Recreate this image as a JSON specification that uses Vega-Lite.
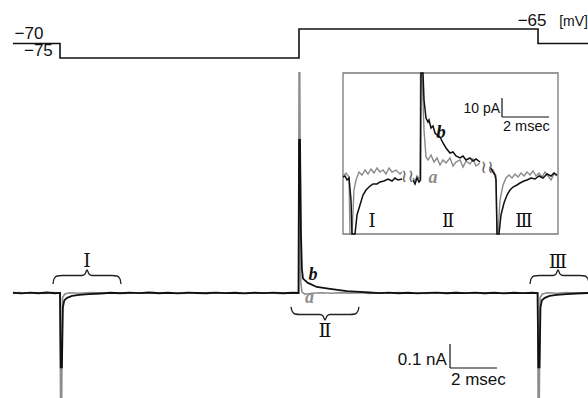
{
"$schema": "https://vega.github.io/schema/vega-lite/v6.json",
"width": 588, "height": 398,
"autosize": {"type": "fit", "contains": "padding"},
"padding": 0,
"background": "white",
"config": {"view": {"stroke": null}},
"datasets": {
"volt": [{"t":0.54,"mV":-70},{"t":2.5,"mV":-70},{"t":2.5,"mV":-75},{"t":12.458,"mV":-75},{"t":12.458,"mV":-65},{"t":22.417,"mV":-65},{"t":22.417,"mV":-70},{"t":24.6,"mV":-70}],
"volt_text": [{"t":1.21,"mV":-68.45,"txt":"−70"},{"t":1.6,"mV":-74.31,"txt":"−75"},{"t":22.17,"mV":-63.97,"txt":"−65"}],
"volt_unit": [{"t":23.3,"mV":-63.97,"txt":"[mV]"}],
"main_a": [{"t":0.54,"nA":-0.0005},{"t":0.8,"nA":0.0015},{"t":1.15,"nA":-0.001},{"t":1.5,"nA":0.001},{"t":1.85,"nA":-0.0015},{"t":2.2,"nA":0.0015},{"t":2.5,"nA":0.0},{"t":2.53,"nA":-0.6},{"t":2.56,"nA":-0.6},{"t":2.6,"nA":-0.02},{"t":2.7,"nA":-0.004},{"t":2.9,"nA":0.001},{"t":3.3,"nA":-0.001},{"t":3.8,"nA":0.0015},{"t":4.3,"nA":-0.0005},{"t":4.8,"nA":0.001},{"t":5.2,"nA":-0.0015},{"t":5.6,"nA":0.001},{"t":6.0,"nA":-0.0005},{"t":6.4,"nA":0.0015},{"t":6.8,"nA":-0.001},{"t":7.2,"nA":0.0005},{"t":7.6,"nA":-0.0015},{"t":8.0,"nA":0.001},{"t":8.4,"nA":-0.0005},{"t":8.8,"nA":0.0015},{"t":9.2,"nA":-0.001},{"t":9.6,"nA":0.0005},{"t":10.0,"nA":-0.0015},{"t":10.4,"nA":0.001},{"t":10.8,"nA":-0.0005},{"t":11.2,"nA":0.001},{"t":11.6,"nA":-0.0015},{"t":12.0,"nA":0.0005},{"t":12.44,"nA":0.0},{"t":12.46,"nA":0.917},{"t":12.49,"nA":0.917},{"t":12.53,"nA":0.05},{"t":12.58,"nA":0.005},{"t":12.7,"nA":-0.005},{"t":13.0,"nA":-0.001},{"t":13.4,"nA":0.001},{"t":13.8,"nA":-0.001},{"t":14.2,"nA":0.0015},{"t":14.6,"nA":-0.0005},{"t":15.0,"nA":0.001},{"t":15.4,"nA":-0.0015},{"t":15.8,"nA":0.001},{"t":16.2,"nA":-0.0005},{"t":16.6,"nA":0.0015},{"t":17.0,"nA":-0.001},{"t":17.4,"nA":0.0005},{"t":17.8,"nA":-0.0015},{"t":18.2,"nA":0.001},{"t":18.6,"nA":-0.0005},{"t":19.0,"nA":0.0015},{"t":19.4,"nA":-0.001},{"t":19.8,"nA":0.0005},{"t":20.2,"nA":-0.0015},{"t":20.6,"nA":0.001},{"t":21.0,"nA":-0.0005},{"t":21.4,"nA":0.001},{"t":21.8,"nA":-0.001},{"t":22.2,"nA":0.0005},{"t":22.4,"nA":0.0},{"t":22.43,"nA":-0.6},{"t":22.46,"nA":-0.6},{"t":22.5,"nA":-0.02},{"t":22.6,"nA":-0.004},{"t":22.8,"nA":0.001},{"t":23.2,"nA":-0.001},{"t":23.6,"nA":0.0015},{"t":24.0,"nA":-0.0005},{"t":24.6,"nA":0.001}],
"main_b": [{"t":0.54,"nA":0.001},{"t":0.9,"nA":-0.0015},{"t":1.25,"nA":0.0015},{"t":1.6,"nA":-0.001},{"t":1.95,"nA":0.002},{"t":2.3,"nA":-0.001},{"t":2.5,"nA":0.0005},{"t":2.53,"nA":-0.31},{"t":2.58,"nA":-0.31},{"t":2.62,"nA":-0.06},{"t":2.68,"nA":-0.03},{"t":2.8,"nA":-0.02},{"t":3.0,"nA":-0.012},{"t":3.3,"nA":-0.008},{"t":3.7,"nA":-0.005},{"t":4.2,"nA":-0.002},{"t":4.6,"nA":0.001},{"t":5.0,"nA":-0.001},{"t":5.4,"nA":0.0015},{"t":5.8,"nA":-0.0005},{"t":6.2,"nA":0.002},{"t":6.6,"nA":-0.001},{"t":7.0,"nA":0.001},{"t":7.4,"nA":-0.0015},{"t":7.8,"nA":0.0015},{"t":8.2,"nA":0.0},{"t":8.6,"nA":-0.001},{"t":9.0,"nA":0.0015},{"t":9.4,"nA":-0.0005},{"t":9.8,"nA":0.001},{"t":10.2,"nA":-0.0015},{"t":10.6,"nA":0.001},{"t":11.0,"nA":-0.0005},{"t":11.4,"nA":0.0015},{"t":11.8,"nA":-0.001},{"t":12.2,"nA":0.001},{"t":12.44,"nA":0.0},{"t":12.46,"nA":0.6375},{"t":12.5,"nA":0.6375},{"t":12.54,"nA":0.25},{"t":12.58,"nA":0.1},{"t":12.625,"nA":0.06},{"t":12.83,"nA":0.042},{"t":13.2,"nA":0.025},{"t":13.75,"nA":0.017},{"t":14.46,"nA":0.008},{"t":15.0,"nA":0.005},{"t":15.4,"nA":0.002},{"t":15.8,"nA":-0.0005},{"t":16.2,"nA":0.0015},{"t":16.6,"nA":-0.001},{"t":17.0,"nA":0.001},{"t":17.4,"nA":-0.0015},{"t":17.8,"nA":0.0005},{"t":18.2,"nA":0.0015},{"t":18.6,"nA":-0.001},{"t":19.0,"nA":0.001},{"t":19.4,"nA":-0.0005},{"t":19.8,"nA":0.0015},{"t":20.2,"nA":-0.001},{"t":20.6,"nA":0.001},{"t":21.0,"nA":-0.0015},{"t":21.4,"nA":0.001},{"t":21.8,"nA":-0.0005},{"t":22.2,"nA":0.001},{"t":22.4,"nA":0.0},{"t":22.43,"nA":-0.31},{"t":22.48,"nA":-0.31},{"t":22.52,"nA":-0.06},{"t":22.58,"nA":-0.03},{"t":22.7,"nA":-0.02},{"t":22.9,"nA":-0.012},{"t":23.2,"nA":-0.008},{"t":23.6,"nA":-0.005},{"t":24.0,"nA":-0.002},{"t":24.6,"nA":0.0005}],
"braces": [
{"id":"I","t":2.208,"nA":0.0375},{"id":"I","t":2.25,"nA":0.0583},{"id":"I","t":2.375,"nA":0.0708},{"id":"I","t":2.583,"nA":0.0729},{"id":"I","t":3.417,"nA":0.0729},{"id":"I","t":3.542,"nA":0.0792},{"id":"I","t":3.625,"nA":0.0958},{"id":"I","t":3.708,"nA":0.0792},{"id":"I","t":3.833,"nA":0.0729},{"id":"I","t":4.667,"nA":0.0729},{"id":"I","t":4.875,"nA":0.0708},{"id":"I","t":5.0,"nA":0.0583},{"id":"I","t":5.042,"nA":0.0375},
{"id":"II","t":12.125,"nA":-0.0583},{"id":"II","t":12.167,"nA":-0.075},{"id":"II","t":12.292,"nA":-0.0875},{"id":"II","t":12.5,"nA":-0.0896},{"id":"II","t":13.333,"nA":-0.0896},{"id":"II","t":13.458,"nA":-0.0958},{"id":"II","t":13.542,"nA":-0.1125},{"id":"II","t":13.625,"nA":-0.0958},{"id":"II","t":13.75,"nA":-0.0896},{"id":"II","t":14.583,"nA":-0.0896},{"id":"II","t":14.792,"nA":-0.0875},{"id":"II","t":14.917,"nA":-0.075},{"id":"II","t":14.958,"nA":-0.0583},
{"id":"III","t":22.083,"nA":0.0375},{"id":"III","t":22.125,"nA":0.0583},{"id":"III","t":22.25,"nA":0.0708},{"id":"III","t":22.458,"nA":0.0729},{"id":"III","t":23.042,"nA":0.0729},{"id":"III","t":23.167,"nA":0.0792},{"id":"III","t":23.25,"nA":0.0958},{"id":"III","t":23.333,"nA":0.0792},{"id":"III","t":23.458,"nA":0.0729},{"id":"III","t":24.167,"nA":0.0729},{"id":"III","t":24.375,"nA":0.0708},{"id":"III","t":24.5,"nA":0.0583},{"id":"III","t":24.542,"nA":0.0375}],
"main_roman": [{"t":3.625,"nA":0.108,"txt":"Ⅰ"},{"t":23.25,"nA":0.104,"txt":"Ⅲ"},{"t":13.542,"nA":-0.183,"txt":"Ⅱ"}],
"main_bar": [{"x1":18.75,"x2":18.75,"y1":-0.2125,"y2":-0.3125},{"x1":18.75,"x2":20.71,"y1":-0.3125,"y2":-0.3125}],
"main_bar_v": [{"t":18.62,"nA":-0.3,"txt":"0.1 nA"}],
"main_bar_h": [{"t":18.79,"nA":-0.383,"txt":"2 msec"}],
"main_b_lab": [{"t":13.04,"nA":0.054,"txt":"b"}],
"main_a_lab": [{"t":12.9,"nA":-0.042,"txt":"a"}],
"ins_box": [{"x1":0,"x2":8.958,"y1":54.74,"y2":-30}],
"ins_a": [
{"seg":1,"t":0,"pA":0.53},{"seg":1,"t":0.125,"pA":2.11},{"seg":1,"t":0.25,"pA":0},{"seg":1,"t":0.292,"pA":-30},{"seg":1,"t":0.375,"pA":-30},{"seg":1,"t":0.458,"pA":-6.84},{"seg":1,"t":0.542,"pA":-1.58},{"seg":1,"t":0.667,"pA":2.63},{"seg":1,"t":0.792,"pA":1.05},{"seg":1,"t":0.917,"pA":3.68},{"seg":1,"t":1.042,"pA":1.58},{"seg":1,"t":1.167,"pA":4.21},{"seg":1,"t":1.292,"pA":2.11},{"seg":1,"t":1.417,"pA":4.74},{"seg":1,"t":1.542,"pA":2.63},{"seg":1,"t":1.667,"pA":3.68},{"seg":1,"t":1.792,"pA":1.58},{"seg":1,"t":1.917,"pA":4.74},{"seg":1,"t":2.042,"pA":2.63},{"seg":1,"t":2.208,"pA":3.68},{"seg":1,"t":2.375,"pA":1.58},{"seg":1,"t":2.458,"pA":2.63},
{"seg":2,"t":2.917,"pA":-0.53},{"seg":2,"t":3.0,"pA":-2.11},{"seg":2,"t":3.083,"pA":0.53},{"seg":2,"t":3.167,"pA":-1.05},{"seg":2,"t":3.208,"pA":-0.53},{"seg":2,"t":3.229,"pA":54.74},{"seg":2,"t":3.292,"pA":54.74},{"seg":2,"t":3.375,"pA":24.74},{"seg":2,"t":3.458,"pA":10.53},{"seg":2,"t":3.542,"pA":8.95},{"seg":2,"t":3.667,"pA":11.58},{"seg":2,"t":3.792,"pA":7.89},{"seg":2,"t":3.917,"pA":10.0},{"seg":2,"t":4.042,"pA":6.32},{"seg":2,"t":4.167,"pA":8.95},{"seg":2,"t":4.292,"pA":7.37},{"seg":2,"t":4.458,"pA":10.0},{"seg":2,"t":4.583,"pA":5.79},{"seg":2,"t":4.708,"pA":7.89},{"seg":2,"t":4.875,"pA":8.95},{"seg":2,"t":5.0,"pA":5.26},{"seg":2,"t":5.125,"pA":8.42},{"seg":2,"t":5.292,"pA":6.84},{"seg":2,"t":5.417,"pA":9.47},{"seg":2,"t":5.542,"pA":5.79},{"seg":2,"t":5.708,"pA":7.37},
{"seg":3,"t":6.125,"pA":4.74},{"seg":3,"t":6.25,"pA":3.68},{"seg":3,"t":6.375,"pA":0.53},{"seg":3,"t":6.417,"pA":-30},{"seg":3,"t":6.458,"pA":-30},{"seg":3,"t":6.542,"pA":-12.1},{"seg":3,"t":6.667,"pA":-4.21},{"seg":3,"t":6.792,"pA":-0.53},{"seg":3,"t":6.917,"pA":1.05},{"seg":3,"t":7.042,"pA":-0.53},{"seg":3,"t":7.167,"pA":1.58},{"seg":3,"t":7.292,"pA":0},{"seg":3,"t":7.417,"pA":2.11},{"seg":3,"t":7.542,"pA":0.53},{"seg":3,"t":7.667,"pA":2.63},{"seg":3,"t":7.792,"pA":1.05},{"seg":3,"t":7.917,"pA":3.16},{"seg":3,"t":8.042,"pA":0.53},{"seg":3,"t":8.167,"pA":2.11},{"seg":3,"t":8.292,"pA":0},{"seg":3,"t":8.417,"pA":2.63},{"seg":3,"t":8.542,"pA":0.53},{"seg":3,"t":8.667,"pA":-1.58},{"seg":3,"t":8.792,"pA":1.58},{"seg":3,"t":8.917,"pA":0.53}],
"ins_b": [
{"seg":1,"t":0,"pA":0},{"seg":1,"t":0.083,"pA":0.53},{"seg":1,"t":0.167,"pA":-1.58},{"seg":1,"t":0.25,"pA":-0.53},{"seg":1,"t":0.333,"pA":-12.1},{"seg":1,"t":0.375,"pA":-30},{"seg":1,"t":0.5,"pA":-30},{"seg":1,"t":0.583,"pA":-20},{"seg":1,"t":0.708,"pA":-14.74},{"seg":1,"t":0.833,"pA":-9.47},{"seg":1,"t":0.958,"pA":-6.84},{"seg":1,"t":1.125,"pA":-4.74},{"seg":1,"t":1.25,"pA":-3.68},{"seg":1,"t":1.417,"pA":-3.68},{"seg":1,"t":1.542,"pA":-2.63},{"seg":1,"t":1.708,"pA":-2.11},{"seg":1,"t":1.875,"pA":-1.05},{"seg":1,"t":2.042,"pA":-2.11},{"seg":1,"t":2.167,"pA":-0.53},{"seg":1,"t":2.292,"pA":-1.58},{"seg":1,"t":2.458,"pA":-1.05},
{"seg":2,"t":2.917,"pA":-1.58},{"seg":2,"t":3.0,"pA":-3.68},{"seg":2,"t":3.083,"pA":-0.53},{"seg":2,"t":3.167,"pA":-2.63},{"seg":2,"t":3.229,"pA":-1.58},{"seg":2,"t":3.25,"pA":54.74},{"seg":2,"t":3.333,"pA":54.74},{"seg":2,"t":3.375,"pA":40.53},{"seg":2,"t":3.458,"pA":31.05},{"seg":2,"t":3.542,"pA":28.95},{"seg":2,"t":3.583,"pA":30.0},{"seg":2,"t":3.667,"pA":25.79},{"seg":2,"t":3.75,"pA":26.84},{"seg":2,"t":3.833,"pA":23.16},{"seg":2,"t":3.917,"pA":22.11},{"seg":2,"t":4.042,"pA":21.05},{"seg":2,"t":4.167,"pA":17.89},{"seg":2,"t":4.292,"pA":15.26},{"seg":2,"t":4.458,"pA":12.63},{"seg":2,"t":4.583,"pA":13.16},{"seg":2,"t":4.708,"pA":11.05},{"seg":2,"t":4.875,"pA":10.0},{"seg":2,"t":5.0,"pA":11.05},{"seg":2,"t":5.125,"pA":8.95},{"seg":2,"t":5.292,"pA":10.0},{"seg":2,"t":5.417,"pA":8.42},{"seg":2,"t":5.542,"pA":9.47},{"seg":2,"t":5.708,"pA":7.89},
{"seg":3,"t":6.125,"pA":5.26},{"seg":3,"t":6.25,"pA":2.63},{"seg":3,"t":6.333,"pA":1.05},{"seg":3,"t":6.375,"pA":-1.58},{"seg":3,"t":6.417,"pA":-30},{"seg":3,"t":6.5,"pA":-30},{"seg":3,"t":6.583,"pA":-20},{"seg":3,"t":6.708,"pA":-13.68},{"seg":3,"t":6.833,"pA":-9.47},{"seg":3,"t":6.958,"pA":-6.84},{"seg":3,"t":7.083,"pA":-5.26},{"seg":3,"t":7.25,"pA":-4.21},{"seg":3,"t":7.375,"pA":-3.16},{"seg":3,"t":7.542,"pA":-2.11},{"seg":3,"t":7.667,"pA":-1.58},{"seg":3,"t":7.833,"pA":-0.53},{"seg":3,"t":8.0,"pA":-1.05},{"seg":3,"t":8.167,"pA":0.53},{"seg":3,"t":8.333,"pA":-0.53},{"seg":3,"t":8.5,"pA":1.58},{"seg":3,"t":8.667,"pA":0.53},{"seg":3,"t":8.792,"pA":2.11},{"seg":3,"t":8.917,"pA":1.05}],
"ins_roman": [{"t":1.208,"pA":-26.3,"txt":"Ⅰ"},{"t":4.375,"pA":-26.3,"txt":"Ⅱ"},{"t":7.542,"pA":-26.3,"txt":"Ⅲ"}],
"ins_breaks": [{"t":2.688,"pA":0,"txt":"≀≀"},{"t":6.0,"pA":4.74,"txt":"≀≀"}],
"ins_bar": [{"x1":6.625,"x2":6.625,"y1":41.58,"y2":31.58},{"x1":6.625,"x2":8.583,"y1":31.58,"y2":31.58}],
"ins_bar_v": [{"t":6.542,"pA":33.68,"txt":"10 pA"}],
"ins_bar_h": [{"t":6.667,"pA":24.21,"txt":"2 msec"}],
"ins_b_lab": [{"t":4.083,"pA":20.53,"txt":"b"}],
"ins_a_lab": [{"t":3.75,"pA":-3.16,"txt":"a"}]
},
"resolve": {"scale": {"x": "independent", "y": "independent"}},
"layer": [
{
"layer": [
{"data": {"name": "volt"}, "mark": {"type": "line", "color": "#111", "strokeWidth": 1.6, "clip": true},
 "encoding": {"x": {"field": "t", "type": "quantitative", "scale": {"domain": [0, 24.5], "nice": false, "zero": false}, "axis": null},
  "y": {"field": "mV", "type": "quantitative", "scale": {"domain": [-192.24, -55], "nice": false, "zero": false}, "axis": null},
  "order": {"value": null}}},
{"data": {"name": "volt_text"}, "mark": {"type": "text", "font": "Liberation Sans", "fontSize": 17, "color": "#111", "align": "center", "baseline": "alphabetic"},
 "encoding": {"x": {"field": "t", "type": "quantitative", "scale": {"domain": [0, 24.5], "nice": false, "zero": false}, "axis": null},
  "y": {"field": "mV", "type": "quantitative", "scale": {"domain": [-192.24, -55], "nice": false, "zero": false}, "axis": null},
  "text": {"field": "txt"}}},
{"data": {"name": "volt_unit"}, "mark": {"type": "text", "font": "Liberation Sans", "fontSize": 14, "color": "#111", "align": "left", "baseline": "alphabetic"},
 "encoding": {"x": {"field": "t", "type": "quantitative", "scale": {"domain": [0, 24.5], "nice": false, "zero": false}, "axis": null},
  "y": {"field": "mV", "type": "quantitative", "scale": {"domain": [-192.24, -55], "nice": false, "zero": false}, "axis": null},
  "text": {"field": "txt"}}}
]
},
{
"layer": [
{"data": {"name": "main_a"}, "mark": {"type": "line", "color": "#8c8c8c", "strokeWidth": 1.6, "clip": true},
 "encoding": {"x": {"field": "t", "type": "quantitative", "scale": {"domain": [0, 24.5], "nice": false, "zero": false}, "axis": null},
  "y": {"field": "nA", "type": "quantitative", "scale": {"domain": [-0.4375, 1.2208], "nice": false, "zero": false}, "axis": null},
  "order": {"value": null}}},
{"data": {"name": "main_b"}, "mark": {"type": "line", "color": "#111", "strokeWidth": 1.8, "clip": true},
 "encoding": {"x": {"field": "t", "type": "quantitative", "scale": {"domain": [0, 24.5], "nice": false, "zero": false}, "axis": null},
  "y": {"field": "nA", "type": "quantitative", "scale": {"domain": [-0.4375, 1.2208], "nice": false, "zero": false}, "axis": null},
  "order": {"value": null}}},
{"data": {"name": "braces"}, "mark": {"type": "line", "color": "#222", "strokeWidth": 1.3, "interpolate": "monotone", "clip": true},
 "encoding": {"x": {"field": "t", "type": "quantitative", "scale": {"domain": [0, 24.5], "nice": false, "zero": false}, "axis": null},
  "y": {"field": "nA", "type": "quantitative", "scale": {"domain": [-0.4375, 1.2208], "nice": false, "zero": false}, "axis": null},
  "detail": {"field": "id"}, "order": {"value": null}}},
{"data": {"name": "main_roman"}, "mark": {"type": "text", "font": "DejaVu Serif", "fontSize": 19, "color": "#111", "align": "center", "baseline": "alphabetic"},
 "encoding": {"x": {"field": "t", "type": "quantitative", "scale": {"domain": [0, 24.5], "nice": false, "zero": false}, "axis": null},
  "y": {"field": "nA", "type": "quantitative", "scale": {"domain": [-0.4375, 1.2208], "nice": false, "zero": false}, "axis": null},
  "text": {"field": "txt"}}},
{"data": {"name": "main_bar"}, "mark": {"type": "rule", "color": "#111", "strokeWidth": 1.2},
 "encoding": {"x": {"field": "x1", "type": "quantitative", "scale": {"domain": [0, 24.5], "nice": false, "zero": false}, "axis": null},
  "x2": {"field": "x2"},
  "y": {"field": "y1", "type": "quantitative", "scale": {"domain": [-0.4375, 1.2208], "nice": false, "zero": false}, "axis": null},
  "y2": {"field": "y2"}}},
{"data": {"name": "main_bar_v"}, "mark": {"type": "text", "font": "Liberation Sans", "fontSize": 17, "color": "#111", "align": "right", "baseline": "alphabetic"},
 "encoding": {"x": {"field": "t", "type": "quantitative", "scale": {"domain": [0, 24.5], "nice": false, "zero": false}, "axis": null},
  "y": {"field": "nA", "type": "quantitative", "scale": {"domain": [-0.4375, 1.2208], "nice": false, "zero": false}, "axis": null},
  "text": {"field": "txt"}}},
{"data": {"name": "main_bar_h"}, "mark": {"type": "text", "font": "Liberation Sans", "fontSize": 17, "color": "#111", "align": "left", "baseline": "alphabetic"},
 "encoding": {"x": {"field": "t", "type": "quantitative", "scale": {"domain": [0, 24.5], "nice": false, "zero": false}, "axis": null},
  "y": {"field": "nA", "type": "quantitative", "scale": {"domain": [-0.4375, 1.2208], "nice": false, "zero": false}, "axis": null},
  "text": {"field": "txt"}}},
{"data": {"name": "main_b_lab"}, "mark": {"type": "text", "font": "Liberation Serif", "fontSize": 18, "fontStyle": "italic", "fontWeight": "bold", "color": "#111", "align": "center", "baseline": "alphabetic"},
 "encoding": {"x": {"field": "t", "type": "quantitative", "scale": {"domain": [0, 24.5], "nice": false, "zero": false}, "axis": null},
  "y": {"field": "nA", "type": "quantitative", "scale": {"domain": [-0.4375, 1.2208], "nice": false, "zero": false}, "axis": null},
  "text": {"field": "txt"}}},
{"data": {"name": "main_a_lab"}, "mark": {"type": "text", "font": "Liberation Serif", "fontSize": 18, "fontStyle": "italic", "fontWeight": "bold", "color": "#8c8c8c", "align": "center", "baseline": "alphabetic"},
 "encoding": {"x": {"field": "t", "type": "quantitative", "scale": {"domain": [0, 24.5], "nice": false, "zero": false}, "axis": null},
  "y": {"field": "nA", "type": "quantitative", "scale": {"domain": [-0.4375, 1.2208], "nice": false, "zero": false}, "axis": null},
  "text": {"field": "txt"}}}
]
},
{
"layer": [
{"data": {"name": "ins_box"}, "mark": {"type": "rect", "filled": false, "stroke": "#7a7a7a", "strokeWidth": 1.3},
 "encoding": {"x": {"field": "x1", "type": "quantitative", "scale": {"domain": [-14.292, 10.208], "nice": false, "zero": false}, "axis": null},
  "x2": {"field": "x2"},
  "y": {"field": "y1", "type": "quantitative", "scale": {"domain": [-116.32, 93.16], "nice": false, "zero": false}, "axis": null},
  "y2": {"field": "y2"}}},
{"data": {"name": "ins_a"}, "mark": {"type": "line", "color": "#8a8a8a", "strokeWidth": 1.4},
 "encoding": {"x": {"field": "t", "type": "quantitative", "scale": {"domain": [-14.292, 10.208], "nice": false, "zero": false}, "axis": null},
  "y": {"field": "pA", "type": "quantitative", "scale": {"domain": [-116.32, 93.16], "nice": false, "zero": false}, "axis": null},
  "detail": {"field": "seg"}, "order": {"value": null}}},
{"data": {"name": "ins_b"}, "mark": {"type": "line", "color": "#111", "strokeWidth": 1.5},
 "encoding": {"x": {"field": "t", "type": "quantitative", "scale": {"domain": [-14.292, 10.208], "nice": false, "zero": false}, "axis": null},
  "y": {"field": "pA", "type": "quantitative", "scale": {"domain": [-116.32, 93.16], "nice": false, "zero": false}, "axis": null},
  "detail": {"field": "seg"}, "order": {"value": null}}},
{"data": {"name": "ins_roman"}, "mark": {"type": "text", "font": "DejaVu Serif", "fontSize": 18, "color": "#111", "align": "center", "baseline": "alphabetic"},
 "encoding": {"x": {"field": "t", "type": "quantitative", "scale": {"domain": [-14.292, 10.208], "nice": false, "zero": false}, "axis": null},
  "y": {"field": "pA", "type": "quantitative", "scale": {"domain": [-116.32, 93.16], "nice": false, "zero": false}, "axis": null},
  "text": {"field": "txt"}}},
{"data": {"name": "ins_breaks"}, "mark": {"type": "text", "font": "DejaVu Sans", "fontSize": 18, "color": "#666", "align": "center", "baseline": "middle"},
 "encoding": {"x": {"field": "t", "type": "quantitative", "scale": {"domain": [-14.292, 10.208], "nice": false, "zero": false}, "axis": null},
  "y": {"field": "pA", "type": "quantitative", "scale": {"domain": [-116.32, 93.16], "nice": false, "zero": false}, "axis": null},
  "text": {"field": "txt"}}},
{"data": {"name": "ins_bar"}, "mark": {"type": "rule", "color": "#111", "strokeWidth": 1.2},
 "encoding": {"x": {"field": "x1", "type": "quantitative", "scale": {"domain": [-14.292, 10.208], "nice": false, "zero": false}, "axis": null},
  "x2": {"field": "x2"},
  "y": {"field": "y1", "type": "quantitative", "scale": {"domain": [-116.32, 93.16], "nice": false, "zero": false}, "axis": null},
  "y2": {"field": "y2"}}},
{"data": {"name": "ins_bar_v"}, "mark": {"type": "text", "font": "Liberation Sans", "fontSize": 14, "color": "#111", "align": "right", "baseline": "alphabetic"},
 "encoding": {"x": {"field": "t", "type": "quantitative", "scale": {"domain": [-14.292, 10.208], "nice": false, "zero": false}, "axis": null},
  "y": {"field": "pA", "type": "quantitative", "scale": {"domain": [-116.32, 93.16], "nice": false, "zero": false}, "axis": null},
  "text": {"field": "txt"}}},
{"data": {"name": "ins_bar_h"}, "mark": {"type": "text", "font": "Liberation Sans", "fontSize": 14.5, "color": "#111", "align": "left", "baseline": "alphabetic"},
 "encoding": {"x": {"field": "t", "type": "quantitative", "scale": {"domain": [-14.292, 10.208], "nice": false, "zero": false}, "axis": null},
  "y": {"field": "pA", "type": "quantitative", "scale": {"domain": [-116.32, 93.16], "nice": false, "zero": false}, "axis": null},
  "text": {"field": "txt"}}},
{"data": {"name": "ins_b_lab"}, "mark": {"type": "text", "font": "Liberation Serif", "fontSize": 19, "fontStyle": "italic", "fontWeight": "bold", "color": "#111", "align": "center", "baseline": "alphabetic"},
 "encoding": {"x": {"field": "t", "type": "quantitative", "scale": {"domain": [-14.292, 10.208], "nice": false, "zero": false}, "axis": null},
  "y": {"field": "pA", "type": "quantitative", "scale": {"domain": [-116.32, 93.16], "nice": false, "zero": false}, "axis": null},
  "text": {"field": "txt"}}},
{"data": {"name": "ins_a_lab"}, "mark": {"type": "text", "font": "Liberation Serif", "fontSize": 18, "fontStyle": "italic", "fontWeight": "bold", "color": "#8c8c8c", "align": "center", "baseline": "alphabetic"},
 "encoding": {"x": {"field": "t", "type": "quantitative", "scale": {"domain": [-14.292, 10.208], "nice": false, "zero": false}, "axis": null},
  "y": {"field": "pA", "type": "quantitative", "scale": {"domain": [-116.32, 93.16], "nice": false, "zero": false}, "axis": null},
  "text": {"field": "txt"}}}
]
}
]
}
